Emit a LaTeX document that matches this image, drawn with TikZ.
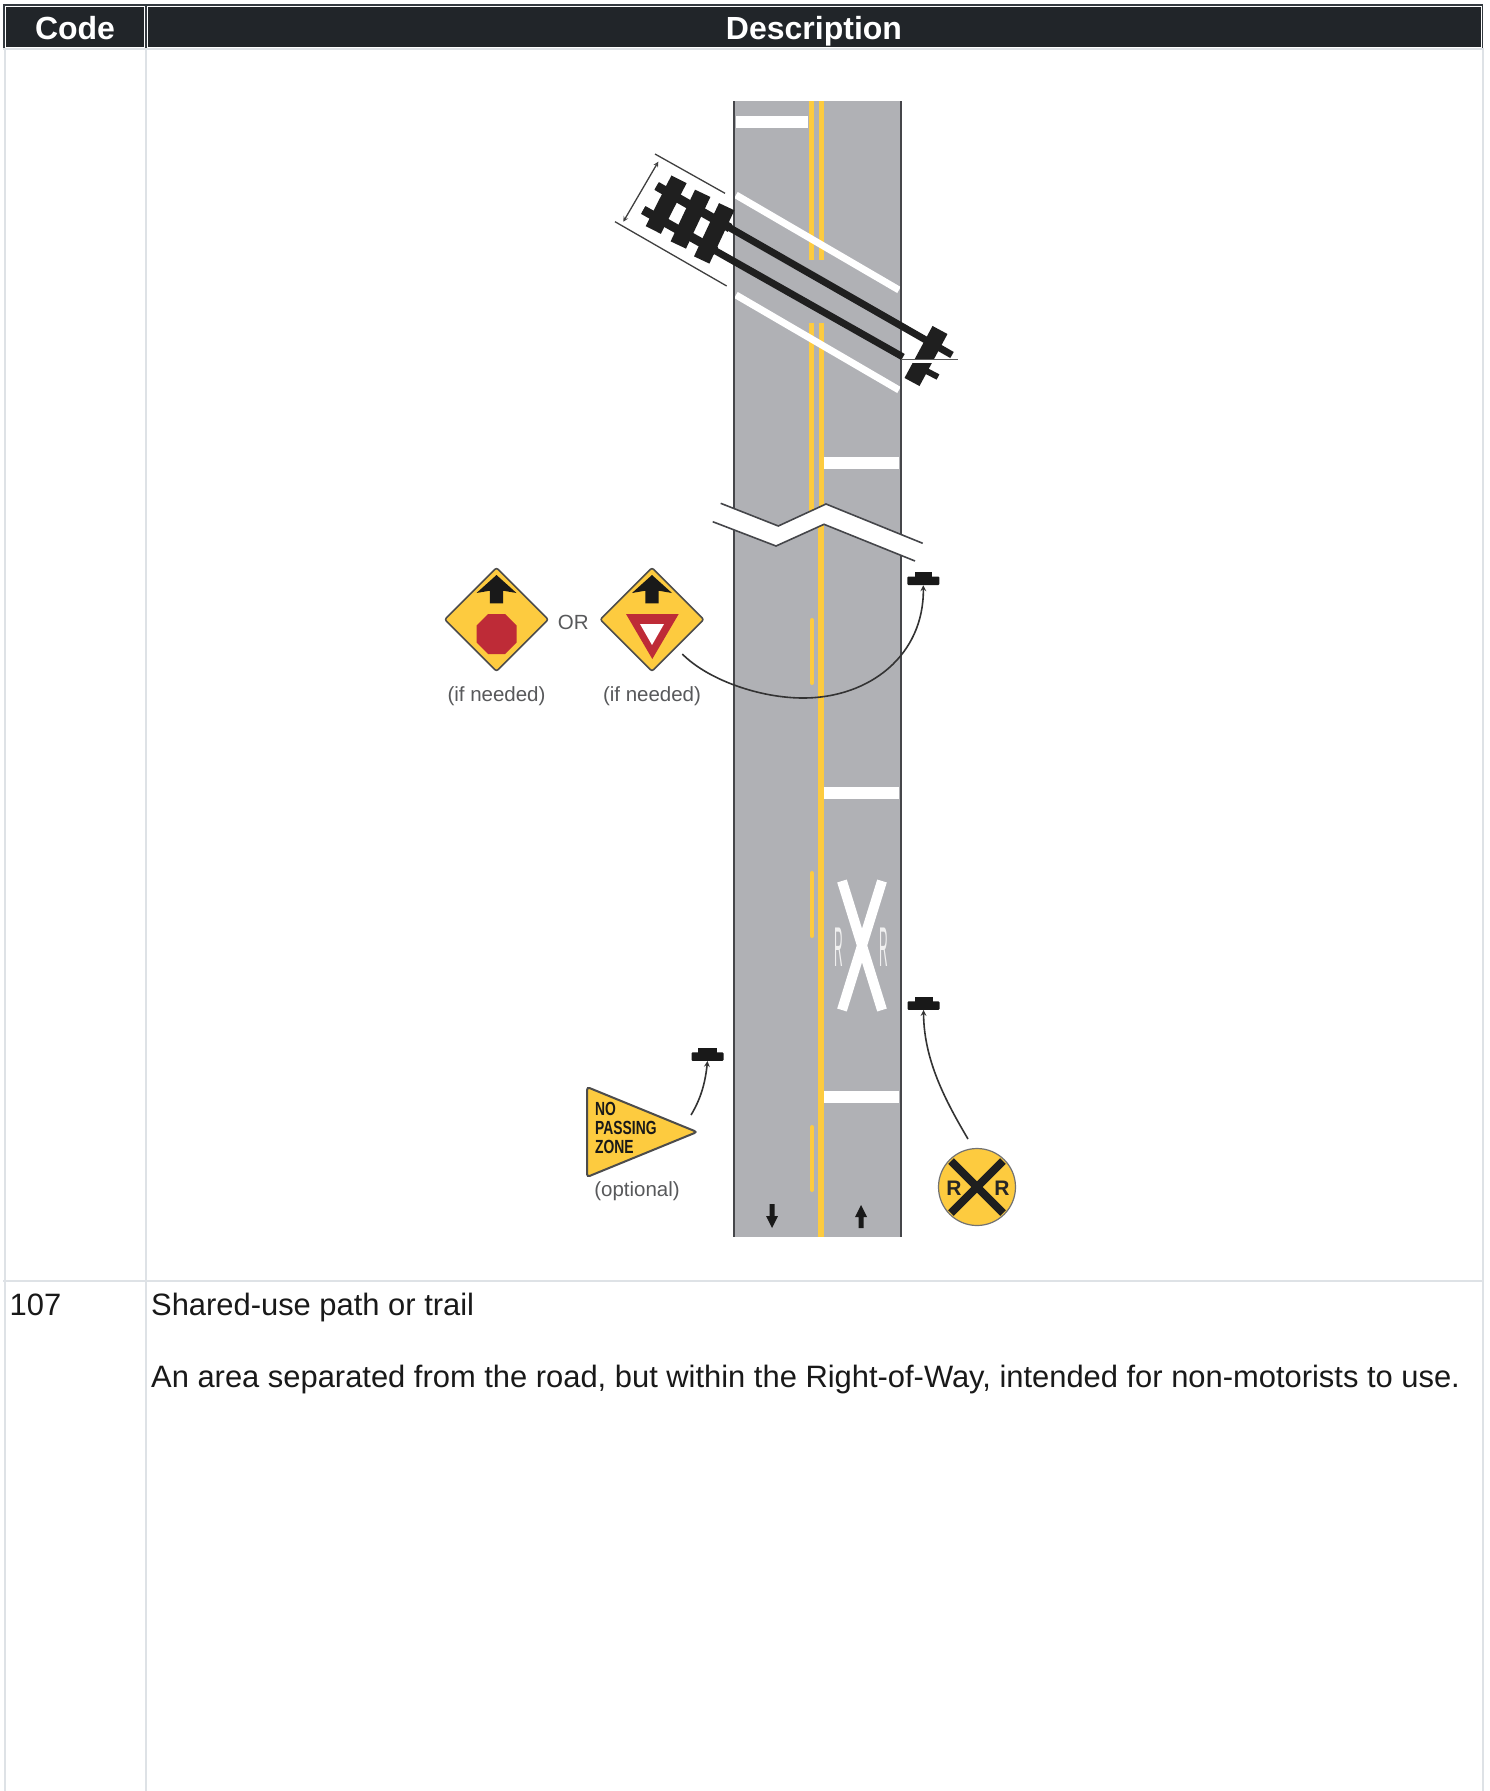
\documentclass[tikz,border=0pt]{standalone}
\usepackage{fontspec}
\setmainfont{Liberation Sans}
\usetikzlibrary{shapes.geometric}
\definecolor{roadgray}{HTML}{B0B1B5}
\definecolor{edgegray}{HTML}{45464A}
\definecolor{signyellow}{HTML}{FDCB3F}
\definecolor{signred}{HTML}{BE2B37}
\definecolor{headdark}{HTML}{212529}
\definecolor{headrim}{HTML}{343A40}
\definecolor{rulegray}{HTML}{DEE2E6}
\definecolor{notegray}{HTML}{58595B}

\begin{document}
\begin{tikzpicture}[x=1pt,y=-1pt,
    rule/.style={rulegray,line width=2pt},
    headcell/.style={draw=white,line width=1pt,fill=headdark},
    headtext/.style={anchor=base,white,font=\fontsize{32}{38}\selectfont\bfseries,inner sep=0pt},
    bodytext/.style={anchor=base west,text=black!90,font=\fontsize{30.9}{36}\selectfont,inner sep=0pt},
    note/.style={anchor=base,text=notegray,font=\fontsize{20.5}{24}\selectfont,inner sep=0pt},
    yellowline/.style={signyellow,line width=5pt},
    whitebar/.style={white,line width=12pt},
    whiteslant/.style={white,line width=7pt},
    roadedge/.style={edgegray,line width=2.5pt},
    tie/.style={black!88,line width=17pt},
    rail/.style={black!88,line width=7pt},
    thinline/.style={black!75,line width=1.3pt},
    pointer/.style={black!80,line width=1.6pt,-stealth},
    basefoot/.style={fill=black!90,minimum width=32pt,minimum height=8.5pt,inner sep=0pt,rounded corners=1pt},
    diamondsign/.style={diamond,aspect=1,draw=black!70,line width=1.6pt,fill=signyellow,minimum width=104pt,minimum height=104pt,inner sep=0pt,rounded corners=2pt},
    signletter/.style={font=\fontsize{21}{24}\selectfont\bfseries,text=black!85,inner sep=0pt},
    roadletter/.style={font=\fontsize{20}{24}\selectfont,text=black!6,inner sep=0pt}]

    \useasboundingbox (0,0) rectangle (1489,1791);
    \fill[white] (0,0) rectangle (1489,1791);

    \fill[headrim] (3,4) rectangle (1483,48.5);
    \draw[rule] (4.5,48.5) -- (4.5,1791);
    \draw[rule] (146,48.5) -- (146,1791);
    \draw[rule] (1482.5,48.5) -- (1482.5,1791);
    \draw[rule] (3,49) -- (1483.5,49);
    \draw[rule] (3,1281) -- (1483.5,1281);
    \draw[headcell] (5.5,6) rectangle (144.5,47.5);
    \draw[headcell] (147.5,6) rectangle (1481,47.5);
    \node[headtext] (codehead) at (75,39) {Code};
    \node[headtext] (deschead) at (814,39) {Description};
    \node[bodytext] (codeval) at (9.5,1315) {107};
    \node[bodytext] (desctitle) at (151,1315) {Shared-use path or trail};
    \node[bodytext] (desctext) at (151,1387) {An area separated from the road, but within the Right-of-Way, intended for non-motorists to use.};

    \fill[roadgray] (734,101) rectangle (901,1237);
    \draw[yellowline] (811,101) -- (811,260);
    \draw[yellowline] (821,101) -- (821,260);
    \draw[yellowline] (811,323) -- (811,515);
    \draw[yellowline] (821,323) -- (821,515);
    \draw[yellowline,line width=6pt] (821,510) -- (821,1237);
    \foreach \dashtop in {620,873,1127}
        \draw[yellowline,line width=4pt,line cap=round] (812,\dashtop) -- (812,\dashtop+63);
    \draw[whitebar] (736,122) -- (808,122);
    \draw[whitebar] (824,463) -- (899,463);
    \draw[whitebar] (824,792.5) -- (899,792.5);
    \draw[whitebar] (824,1097) -- (899,1097);
    \draw[whiteslant] (736,195) -- (899,290);
    \draw[whiteslant] (736,295) -- (899,390);
    \draw[white,line width=10pt] (842,881) -- (882,1010);
    \draw[white,line width=10pt] (882,881) -- (842,1010);
    \node[roadletter] (markleft) at (839,947) {\scalebox{.6}[2.8]{R}};
    \node[roadletter] (markright) at (884,947) {\scalebox{.6}[2.8]{R}};
    \draw[roadedge] (734,101) -- (734,1237);
    \draw[roadedge] (901,101) -- (901,1237);

    \fill[black!90] (772,1228) -- (766,1216) -- (769.5,1216) -- (769.5,1204) -- (774.5,1204) -- (774.5,1216) -- (778,1216) -- cycle;
    \fill[black!90] (861,1205) -- (867,1217) -- (863.5,1217) -- (863.5,1228) -- (858.5,1228) -- (858.5,1217) -- (855,1217) -- cycle;

    \fill[white] (720.7,503.3) -- (778.3,526) -- (826,504) -- (922.7,543.3) -- (915,561) -- (824,524.3) -- (776,546) -- (712.7,521.7) -- cycle;
    \draw[edgegray,line width=1.6pt] (720.7,503.3) -- (778.3,526) -- (826,504) -- (922.7,543.3);
    \draw[edgegray,line width=1.6pt] (712.7,521.7) -- (776,546) -- (824,524.3) -- (915,561);

    \draw[thinline] (655,154) -- (725,193.3);
    \draw[thinline] (615,221.7) -- (726.7,286);
    \draw[thinline,stealth-stealth] (658.3,161.7) -- (623.3,221.7);
    \draw[tie] (679,179.3) -- (653.3,230);
    \draw[tie] (702.7,193.3) -- (678.3,245);
    \draw[tie] (726.7,206.7) -- (701.7,260);
    \draw[tie] (940,330) -- (912,382);
    \draw[rail] (656.7,186) -- (952,355);
    \draw[rail] (643.3,210) -- (903,357);
    \draw[rail,line width=9pt] (656.7,186) -- (730,228);
    \draw[rail,line width=9pt] (643.3,210) -- (716,251);
    \draw[rail,line width=6pt] (915,365) -- (938,377);
    \draw[white,line width=4pt] (903,361) -- (960,361);
    \draw[black!65,line width=1pt] (901,359) -- (958,359);

    \node[diamondsign] (stopsign) at (496.5,619.5) {};
    \node[diamondsign] (yieldsign) at (652,619.5) {};
    \foreach \signx in {496.5,652}
        \fill[black!90] (\signx,575) -- (\signx+20,593) -- (\signx+6.7,590.7) -- (\signx+6.7,603.3) -- (\signx-6.7,603.3) -- (\signx-6.7,590.7) -- (\signx-20,593) -- cycle;
    \fill[signred] (488.2,614) -- (505.2,614) -- (516.7,625.5) -- (516.7,642.5) -- (505.2,654) -- (488.2,654) -- (476.7,642.5) -- (476.7,625.5) -- cycle;
    \fill[signred] (626,614) -- (678.7,614) -- (652.3,659) -- cycle;
    \fill[white] (640,624) -- (664,624) -- (652,645) -- cycle;
    \node[note] (ortext) at (573.3,629) {OR};
    \node[note] (stopnote) at (496.5,701.5) {(if needed)};
    \node[note] (yieldnote) at (652,701.5) {(if needed)};

    \draw[line width=2pt,draw=black!70,fill=signyellow,rounded corners=3pt] (587,1087) -- (697,1132) -- (587,1177) -- cycle;
    \node[transform shape,xscale=.73,anchor=west,inner sep=0pt,align=left,text=black!90,font=\fontsize{19}{19}\selectfont\bfseries] (nopassing) at (595,1128) {NO\\PASSING\\ZONE};
    \node[note] (passnote) at (637,1196) {(optional)};

    \node[circle,draw=black!55,line width=1.2pt,fill=signyellow,minimum size=77pt,inner sep=0pt] (rrsign) at (977,1187) {};
    \draw[black!88,line width=8pt] (951,1161) -- (1003,1213);
    \draw[black!88,line width=8pt] (1003,1161) -- (951,1213);
    \node[signletter] (rrleft) at (954,1188) {R};
    \node[signletter] (rrright) at (1002,1188) {R};

    \node[basefoot] (baseupper) at (923.3,580.8) {};
    \fill[black!90] (915,572.3) rectangle (931.7,577);
    \node[basefoot] (baselower) at (923.5,1005.5) {};
    \fill[black!90] (915,997) rectangle (933,1002);
    \node[basefoot] (basepass) at (707.5,1056.5) {};
    \fill[black!90] (698,1048) rectangle (717,1053);

    \coordinate (yieldtail) at (682.3,654);
    \coordinate (rrtail) at (968,1139);
    \coordinate (passtail) at (691,1115);
    \draw[pointer] (yieldtail) .. controls (708,680) and (760,698) .. (803,698) .. controls (870,698) and (924,655) .. (baseupper.south);
    \draw[pointer] (rrtail) .. controls (945,1100) and (924,1060) .. (baselower.south);
    \draw[pointer] (passtail) .. controls (700,1100) and (705,1085) .. (basepass.south);
\end{tikzpicture}
\end{document}
